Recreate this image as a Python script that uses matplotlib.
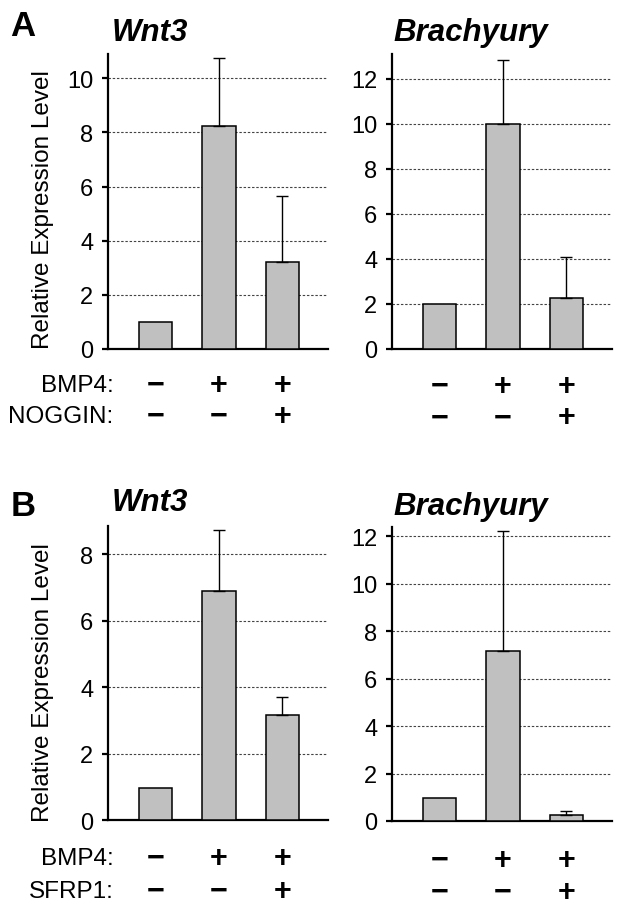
import matplotlib
matplotlib.use("Agg")
import matplotlib.pyplot as plt
import matplotlib.transforms as mtransforms

plt.rcParams["font.family"] = ["Liberation Sans", "DejaVu Sans"]

# data
conditions = [0, 1, 2]
bmp4_signs = ["\u2212", "+", "+"]
noggin_signs = ["\u2212", "\u2212", "+"]
sfrp1_signs = ["\u2212", "\u2212", "+"]

wnt3_noggin = [1.0, 8.23, 3.21]
wnt3_noggin_err = [0, 2.51, 2.43]
brachyury_noggin = [2.0, 9.97, 2.27]
brachyury_noggin_err = [0, 2.87, 1.80]

wnt3_sfrp1 = [0.97, 6.89, 3.16]
wnt3_sfrp1_err = [0, 1.83, 0.53]
brachyury_sfrp1 = [0.97, 7.16, 0.24]
brachyury_sfrp1_err = [0, 5.06, 0.18]

BAR_COLOR = "#c0c0c0"
W, H = 624, 912


def px_axes(left, top, right, bottom):
    """axes rect from pixel box of the reference"""
    return [left / W, 1 - bottom / H, (right - left) / W, (bottom - top) / H]


def draw_panel(ax, values, errors, ymax, ystep, title, title_x, title_y):
    ax.bar(conditions, values, width=0.53, color=BAR_COLOR, edgecolor="black",
           linewidth=1.1, zorder=3)
    # one-sided error bars, only where there is one
    xs = [c for c, e in zip(conditions, errors) if e > 0]
    ys = [v for v, e in zip(values, errors) if e > 0]
    es = [e for e in errors if e > 0]
    ax.errorbar(xs, ys, yerr=[[0] * len(es), es], fmt="none", ecolor="black",
                elinewidth=1.0, capsize=4, capthick=1.0, zorder=4)
    ax.set_xlim(-0.75, 2.72)
    ax.set_ylim(0, ymax)
    ticks = list(range(0, int(ymax) + 1, ystep))
    ax.set_yticks(ticks)
    ax.set_xticks([])
    for t in ticks[1:]:
        ax.axhline(t, color="#444444", linewidth=0.8, linestyle=(0, (2.2, 1.6)),
                   zorder=1)
    for side in ["top", "right"]:
        ax.spines[side].set_visible(False)
    for side in ["left", "bottom"]:
        ax.spines[side].set_linewidth(1.6)
    ax.tick_params(axis="y", direction="out", length=4.5, width=1.6, pad=6,
                   labelsize=17)
    ax.text(title_x, title_y, title, transform=ax.transAxes, ha="center",
            va="center", fontsize=22.5, fontweight="bold", fontstyle="italic")


def draw_signs(ax, rows, row_y, labels=None):
    trans = mtransforms.blended_transform_factory(ax.transData, ax.transAxes)
    for r, signs in enumerate(rows):
        for c, s in zip(conditions, signs):
            ax.text(c, row_y[r], s, transform=trans, ha="center", va="center",
                    fontsize=22, fontweight="bold")
        if labels:
            ax.text(0.025, row_y[r], labels[r], transform=ax.transAxes,
                    ha="right", va="center", fontsize=17.5)


fig = plt.figure(figsize=(6.24, 9.12), dpi=100)

ax1 = fig.add_axes(px_axes(108, 55, 328, 350))
draw_panel(ax1, wnt3_noggin, wnt3_noggin_err, 10.9, 2, "Wnt3", 0.19, 1.075)
draw_signs(ax1, [bmp4_signs, noggin_signs], [-0.122, -0.226],
           ["BMP4:", "NOGGIN:"])

ax2 = fig.add_axes(px_axes(392, 55, 612, 350))
draw_panel(ax2, brachyury_noggin, brachyury_noggin_err, 13.1, 2, "Brachyury",
           0.356, 1.075)
draw_signs(ax2, [bmp4_signs, noggin_signs], [-0.125, -0.232])

ax3 = fig.add_axes(px_axes(108, 527, 328, 821))
draw_panel(ax3, wnt3_sfrp1, wnt3_sfrp1_err, 8.85, 2, "Wnt3", 0.19, 1.08)
draw_signs(ax3, [bmp4_signs, sfrp1_signs], [-0.128, -0.24],
           ["BMP4:", "SFRP1:"])

ax4 = fig.add_axes(px_axes(392, 528, 612, 822))
draw_panel(ax4, brachyury_sfrp1, brachyury_sfrp1_err, 12.4, 2, "Brachyury",
           0.356, 1.071)
draw_signs(ax4, [bmp4_signs, sfrp1_signs], [-0.133, -0.24])

# y labels and panel letters
fig.text(43 / W, 1 - 210 / H, "Relative Expression Level", rotation=90,
         ha="center", va="center", fontsize=17.5)
fig.text(43 / W, 1 - 683 / H, "Relative Expression Level", rotation=90,
         ha="center", va="center", fontsize=17.5)
fig.text(23 / W, 1 - 27 / H, "A", ha="center", va="center", fontsize=25,
         fontweight="bold")
fig.text(23 / W, 1 - 506 / H, "B", ha="center", va="center", fontsize=25,
         fontweight="bold")

fig.savefig("out.png", dpi=100)
